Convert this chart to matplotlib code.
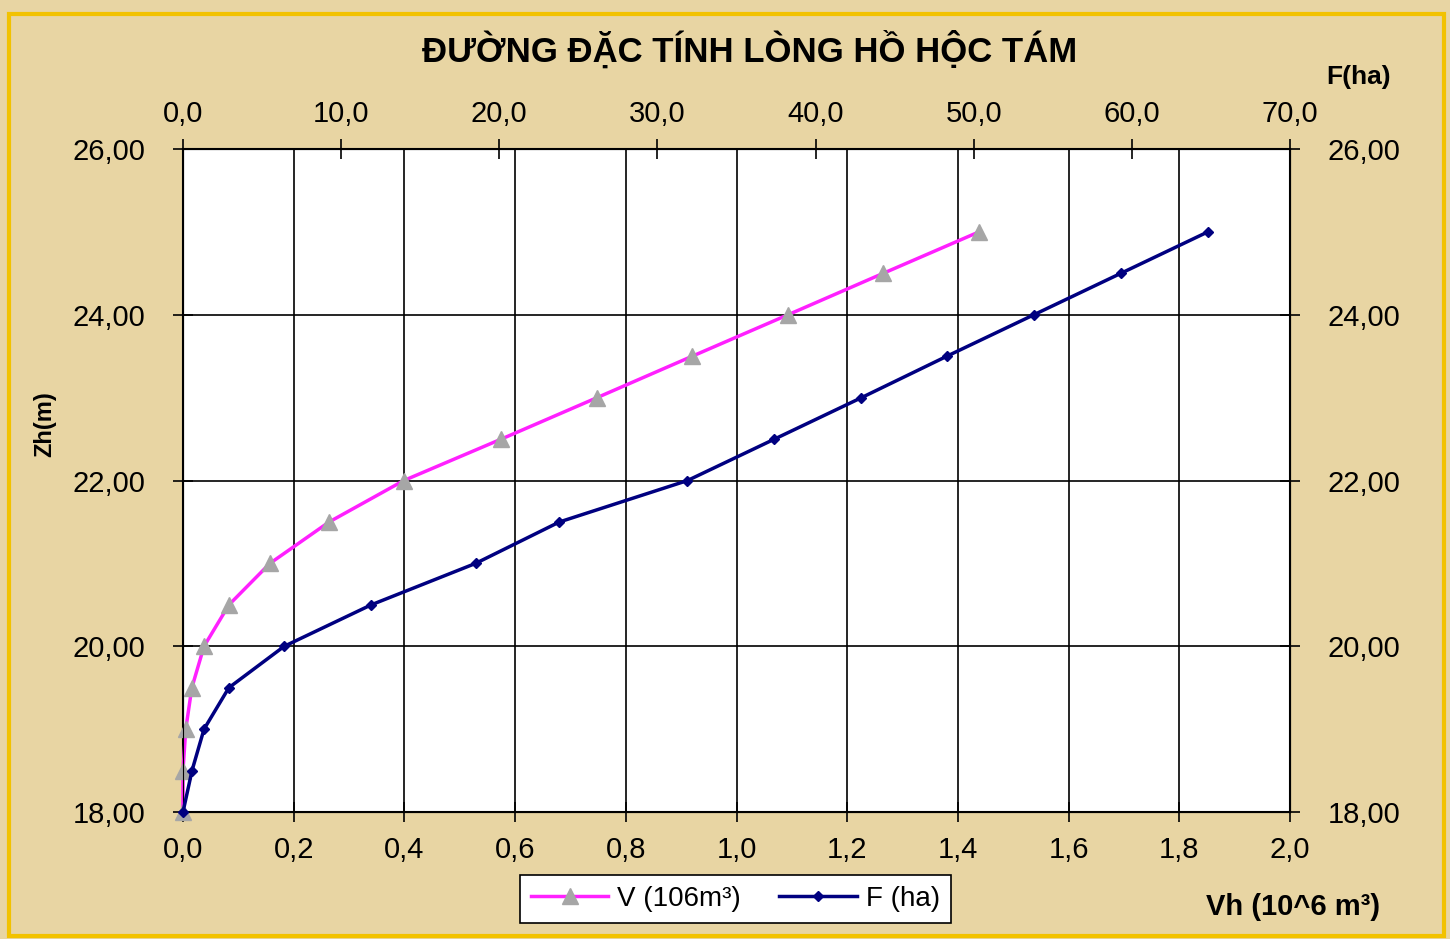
import matplotlib.pyplot as plt
from matplotlib.patches import Rectangle

plt.rcParams["font.family"] = ["Liberation Sans", "DejaVu Sans"]

# cao trinh (m)
z = [18.0, 18.5, 19.0, 19.5, 20.0, 20.5, 21.0, 21.5, 22.0, 22.5, 23.0, 23.5, 24.0, 24.5, 25.0]
# dung tich V (10^6 m3)
v = [0.0, 0.0, 0.005, 0.016, 0.038, 0.083, 0.157, 0.264, 0.399, 0.575, 0.748, 0.920, 1.093, 1.265, 1.438]
# dien tich F (ha)
f = [0.0, 0.57, 1.33, 2.9, 6.4, 11.9, 18.5, 23.8, 31.9, 37.4, 42.9, 48.3, 53.8, 59.3, 64.8]

vh_ticks = [i / 10 for i in range(0, 21, 2)]
f_ticks = list(range(0, 71, 10))
z_ticks = list(range(18, 27, 2))

bg = "#e8d5a3"
fig = plt.figure(figsize=(14.5, 9.39), dpi=100, facecolor=bg)
fig.patches.append(Rectangle((0.006, 0.003), 0.99, 0.982, transform=fig.transFigure,
                             fill=False, edgecolor="#f2c200", lw=3))

ax = fig.add_axes([0.1262, 0.1352, 0.7635, 0.7061])
ax.set_facecolor("white")
ax.set_xlim(0, 2.0)
ax.set_ylim(18, 26)
ax.set_xticks(vh_ticks)
ax.set_xticklabels(["{:.1f}".format(t).replace(".", ",") for t in vh_ticks])
ax.set_yticks(z_ticks)
ax.set_yticklabels(["{:.2f}".format(t).replace(".", ",") for t in z_ticks])
ax.grid(color="black", lw=1.2)
ax.tick_params(direction="inout", length=14, width=1.2, labelsize=21,
               right=True, labelright=True)
ax.tick_params(axis="y", pad=20)
ax.tick_params(axis="x", pad=10)
for s in ax.spines.values():
    s.set_linewidth(1.5)

lv, = ax.plot(v, z, color="#ff20ff", lw=2.5, marker="^", ms=11,
              markerfacecolor="#a6a6a6", markeredgecolor="#a6a6a6",
              label="V (106m\u00b3)", zorder=4, clip_on=False)

ax2 = ax.twiny()
ax2.set_xlim(0, 70)
ax2.set_xticks(f_ticks)
ax2.set_xticklabels(["{:.1f}".format(t).replace(".", ",") for t in f_ticks])
ax2.tick_params(direction="inout", length=14, width=1.2, labelsize=21, pad=8)
lf, = ax2.plot(f, z, color="#000080", lw=2.5, marker="D", ms=5,
               label="F (ha)", zorder=4, clip_on=False)

fig.text(0.517, 0.947, "ĐƯỜNG ĐẶC TÍNH LÒNG HỒ HỘC TÁM", ha="center", va="center",
         fontsize=25, fontweight="bold")
fig.text(0.031, 0.548, "Zh(m)", rotation=90, ha="center", va="center",
         fontsize=17, fontweight="bold")
fig.text(0.937, 0.918, "F(ha)", ha="center", va="center",
         fontsize=19, fontweight="bold")
fig.text(0.892, 0.034, "Vh (10^6 m\u00b3)", ha="center", va="center",
         fontsize=21, fontweight="bold", family=["Liberation Sans Narrow", "Liberation Sans"])

leg = fig.legend(handles=[lv, lf], loc="center", bbox_to_anchor=(0.507, 0.043), ncol=2,
                 fontsize=20, frameon=True, fancybox=False, edgecolor="black",
                 framealpha=1, handlelength=2.8, handletextpad=0.3,
                 columnspacing=1.4, borderpad=0.4)
leg.get_frame().set_linewidth(1.2)

fig.savefig("out.png", dpi=100, facecolor=bg)
